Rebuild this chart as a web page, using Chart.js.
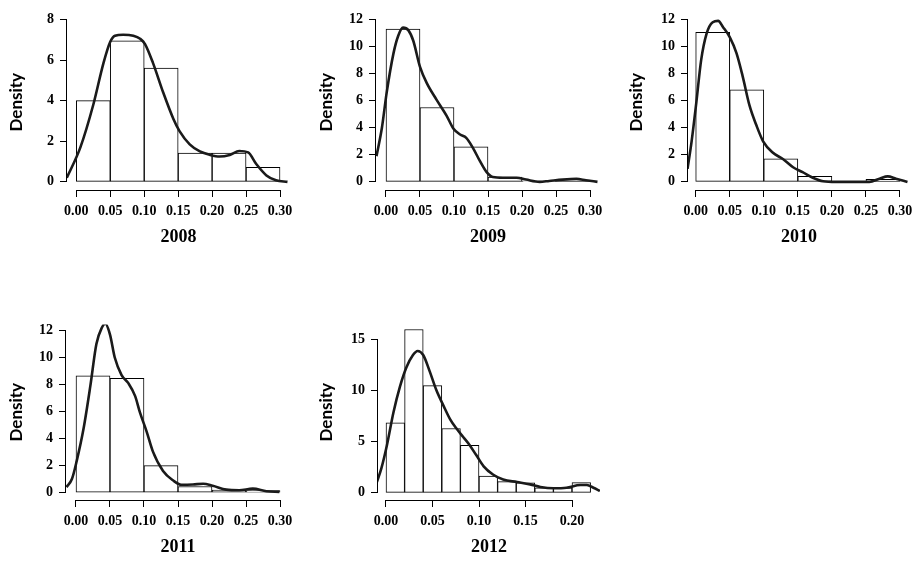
<!DOCTYPE html>
<html>
<head>
<meta charset="utf-8">
<script src="https://cdn.jsdelivr.net/npm/chart.js@4.4.1/dist/chart.umd.min.js"></script>
<style>
  html, body { margin: 0; padding: 0; background: #fff; }
  body { width: 914px; height: 563px; position: relative; overflow: hidden; }
  .panel { position: absolute; width: 300px; height: 250px; }
</style>
</head>
<body>
<div class="panel" style="left:0px;top:0px"><canvas id="c2008" width="300" height="250"></canvas></div>
<div class="panel" style="left:310px;top:0px"><canvas id="c2009" width="300" height="250"></canvas></div>
<div class="panel" style="left:620px;top:0px"><canvas id="c2010" width="300" height="250"></canvas></div>
<div class="panel" style="left:0px;top:310px"><canvas id="c2011" width="300" height="250"></canvas></div>
<div class="panel" style="left:310px;top:310px"><canvas id="c2012" width="300" height="250"></canvas></div>
<script>
// ---- data ----
const edgesWide = [0, 0.05, 0.10, 0.15, 0.20, 0.25, 0.30];
const edges2012 = [0, 0.02, 0.04, 0.06, 0.08, 0.10, 0.12, 0.14, 0.16, 0.18, 0.20, 0.22];

const hist2008 = [4.0, 6.95, 5.6, 1.42, 1.42, 0.72];
const hist2009 = [11.3, 5.5, 2.6, 0.36, 0.07, 0.14];
const hist2010 = [11.05, 6.8, 1.7, 0.41, 0, 0.18];
const hist2011 = [8.65, 8.45, 2.0, 0.45, 0.19, 0.15];
const hist2012 = [6.85, 16.0, 10.5, 6.3, 4.65, 1.65, 1.1, 0.97, 0.5, 0.5, 1.0];

const densX2008 = [-0.014, 0.006, 0.025, 0.040, 0.050, 0.057, 0.069, 0.084, 0.094, 0.101, 0.113, 0.128, 0.143, 0.152, 0.167, 0.182, 0.197, 0.211, 0.226, 0.240, 0.253, 0.265, 0.280, 0.294, 0.311];
const densY2008 = [0.2, 1.7, 3.8, 5.85, 6.9, 7.2, 7.25, 7.2, 7.05, 6.8, 5.85, 4.4, 3.1, 2.5, 1.85, 1.5, 1.33, 1.25, 1.33, 1.52, 1.45, 0.88, 0.32, 0.08, 0.0];

const densX2009 = [-0.014, -0.006, 0.001, 0.011, 0.018, 0.025, 0.033, 0.040, 0.050, 0.060, 0.074, 0.089, 0.099, 0.109, 0.118, 0.128, 0.138, 0.148, 0.157, 0.172, 0.192, 0.206, 0.226, 0.240, 0.260, 0.280, 0.294, 0.311];
const densY2009 = [1.9, 4.0, 6.6, 9.5, 10.8, 11.4, 11.2, 10.45, 8.5, 7.3, 6.1, 4.9, 3.95, 3.5, 3.25, 2.5, 1.55, 0.72, 0.36, 0.31, 0.31, 0.17, 0.0, 0.07, 0.17, 0.22, 0.12, 0.0];

const densX2010 = [-0.012, -0.006, 0.001, 0.008, 0.016, 0.025, 0.033, 0.040, 0.050, 0.060, 0.069, 0.079, 0.089, 0.099, 0.113, 0.128, 0.143, 0.157, 0.172, 0.187, 0.206, 0.231, 0.255, 0.270, 0.282, 0.294, 0.311];
const densY2010 = [0.96, 3.0, 5.9, 9.0, 10.96, 11.8, 11.9, 11.45, 10.7, 9.5, 7.8, 5.65, 4.2, 3.0, 2.17, 1.69, 1.08, 0.72, 0.31, 0.05, 0.0, 0.0, 0.0, 0.24, 0.41, 0.24, 0.0];

const densX2011 = [-0.014, -0.006, 0.001, 0.011, 0.021, 0.030, 0.038, 0.043, 0.050, 0.057, 0.067, 0.077, 0.087, 0.094, 0.104, 0.113, 0.128, 0.143, 0.155, 0.172, 0.187, 0.201, 0.221, 0.240, 0.260, 0.280, 0.299];
const densY2011 = [0.4, 1.0, 2.33, 4.7, 7.86, 11.0, 12.2, 12.5, 11.7, 10.0, 8.7, 8.1, 7.14, 5.94, 4.5, 3.05, 1.6, 0.89, 0.58, 0.6, 0.65, 0.5, 0.22, 0.17, 0.29, 0.1, 0.05];

const densX2012 = [-0.010, -0.005, 0.001, 0.008, 0.015, 0.022, 0.029, 0.034, 0.040, 0.047, 0.054, 0.062, 0.069, 0.076, 0.083, 0.090, 0.097, 0.105, 0.115, 0.126, 0.141, 0.155, 0.166, 0.180, 0.194, 0.209, 0.216, 0.223, 0.230];
const densY2012 = [1.0, 2.4, 4.67, 7.87, 10.4, 12.3, 13.5, 13.9, 13.5, 11.9, 10.1, 8.5, 7.2, 6.27, 5.47, 4.67, 3.7, 2.6, 1.8, 1.3, 1.06, 0.83, 0.58, 0.45, 0.5, 0.77, 0.77, 0.5, 0.19];

const xTicksWide = [0, 0.05, 0.10, 0.15, 0.20, 0.25, 0.30];
const xTicks2012 = [0, 0.05, 0.10, 0.15, 0.20];
const yTicks8 = [0, 2, 4, 6, 8];
const yTicks12 = [0, 2, 4, 6, 8, 10, 12];
const yTicks15 = [0, 5, 10, 15];

// draws the R-style axis lines, only between the first and last tick
const axisLines = {
  id: 'axisLines',
  afterDraw(chart) {
    const { ctx, chartArea, scales: { x, y } } = chart;
    const xt = x.ticks, yt = y.ticks;
    ctx.save();
    ctx.strokeStyle = '#000';
    ctx.lineWidth = 1;
    ctx.beginPath();
    const b = Math.round(chartArea.bottom) + 0.5;
    ctx.moveTo(x.getPixelForValue(xt[0].value), b);
    ctx.lineTo(x.getPixelForValue(xt[xt.length - 1].value), b);
    const l = Math.round(chartArea.left) - 0.5;
    ctx.moveTo(l, y.getPixelForValue(yt[0].value));
    ctx.lineTo(l, y.getPixelForValue(yt[yt.length - 1].value));
    ctx.stroke();
    ctx.restore();
  }
};

const tickFont = { family: 'Liberation Serif', weight: 'bold', size: 14 };

function makePanel(id, year, edges, hist, dx, dy, xTicks, yTicks, opt) {
  const bars = hist.map((v, i) => ({ x: (edges[i] + edges[i + 1]) / 2, y: v }));
  const curve = dx.map((v, i) => ({ x: v, y: dy[i] }));
  new Chart(document.getElementById(id), {
    type: 'bar',
    data: {
      datasets: [
        {
          type: 'line',
          data: curve,
          borderColor: '#1a1a1a',
          borderWidth: 2.6,
          pointRadius: 0,
          cubicInterpolationMode: 'monotone',
          order: 1
        },
        {
          type: 'bar',
          data: bars,
          backgroundColor: '#ffffff',
          borderColor: '#000000',
          borderWidth: 1,
          borderSkipped: false,
          barPercentage: 1,
          categoryPercentage: 1,
          order: 2
        }
      ]
    },
    options: {
      responsive: false,
      animation: false,
      events: [],
      layout: { padding: { top: 10, right: 10, left: 0, bottom: 0 } },
      plugins: { legend: { display: false }, tooltip: { enabled: false } },
      scales: {
        x: {
          type: 'linear',
          offset: false,
          min: opt.xMin,
          max: opt.xMax,
          afterBuildTicks: s => { s.ticks = xTicks.map(v => ({ value: v })); },
          afterFit: s => { s.height = 60; },
          border: { display: false },
          grid: { display: true, offset: false, drawOnChartArea: false, drawTicks: true, tickLength: 7, color: '#000' },
          ticks: { color: '#000', font: tickFont, padding: 6, maxRotation: 0, autoSkip: false, callback: v => v.toFixed(2) },
          title: { display: true, text: year, color: '#000', font: { family: 'Liberation Serif', weight: 'bold', size: 18 }, padding: { top: 0, bottom: 2 } }
        },
        y: {
          min: opt.yMin,
          max: opt.yMax,
          afterBuildTicks: s => { s.ticks = yTicks.map(v => ({ value: v })); },
          afterFit: s => { s.width = opt.left; },
          border: { display: false },
          grid: { display: true, drawOnChartArea: false, drawTicks: true, tickLength: 7, color: '#000' },
          ticks: { color: '#000', font: tickFont, padding: 6, autoSkip: false, callback: v => String(v) },
          title: { display: true, text: 'Density', color: '#000', font: { family: 'Lato', weight: 'bold', size: 17 }, padding: { top: 6, bottom: 0 } }
        }
      }
    },
    plugins: [axisLines]
  });
}

makePanel('c2008', '2008', edgesWide, hist2008, densX2008, densY2008, xTicksWide, yTicks8,
  { xMin: -0.0137, xMax: 0.3147, yMin: -0.4, yMax: 8.25, left: 67 });
makePanel('c2009', '2009', edgesWide, hist2009, densX2009, densY2009, xTicksWide, yTicks12,
  { xMin: -0.0147, xMax: 0.3147, yMin: -0.6, yMax: 12.38, left: 66 });
makePanel('c2010', '2010', edgesWide, hist2010, densX2010, densY2010, xTicksWide, yTicks12,
  { xMin: -0.0113, xMax: 0.3147, yMin: -0.6, yMax: 12.38, left: 68 });
makePanel('c2011', '2011', edgesWide, hist2011, densX2011, densY2011, xTicksWide, yTicks12,
  { xMin: -0.0147, xMax: 0.3147, yMin: -0.55, yMax: 12.45, left: 66 });
makePanel('c2012', '2012', edges2012, hist2012, densX2012, densY2012, xTicks2012, yTicks15,
  { xMin: -0.0086, xMax: 0.2301, yMin: -0.7, yMax: 16.5, left: 68 });
</script>
</body>
</html>
